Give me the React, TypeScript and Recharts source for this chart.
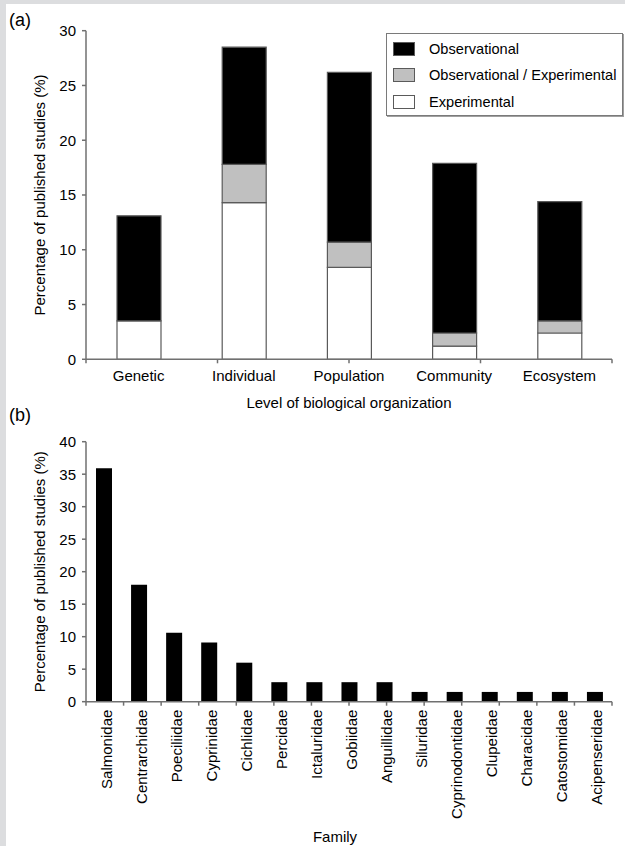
import React from 'react';
import { BarChart, Bar, XAxis, YAxis, Legend, Label } from 'recharts';

const levels = ['Genetic', 'Individual', 'Population', 'Community', 'Ecosystem'];
const experimental = [3.5, 14.3, 8.4, 1.2, 2.4];
const obsExp = [0, 3.5, 2.3, 1.2, 1.1];
const observational = [9.6, 10.7, 15.5, 15.5, 10.9];
const levelTicks = [0, 5, 10, 15, 20, 25, 30];

const families = [
  'Salmonidae', 'Centrarchidae', 'Poeciliidae', 'Cyprinidae', 'Cichlidae',
  'Percidae', 'Ictaluridae', 'Gobiidae', 'Anguillidae', 'Siluridae',
  'Cyprinodontidae', 'Clupeidae', 'Characidae', 'Catostomidae', 'Acipenseridae',
];
const familyPct = [35.9, 18, 10.6, 9.1, 6, 3, 3, 3, 3, 1.5, 1.5, 1.5, 1.5, 1.5, 1.5];
const familyTicks = [0, 5, 10, 15, 20, 25, 30, 35, 40];

const legendOrder = ['Observational', 'Observational / Experimental', 'Experimental'];

const FONT = '"Liberation Sans", Arial, sans-serif';
const AXIS = '#707070';
const STROKE = '#5a5a5a';
const H = 0.01;

const dataA = levels.map((l, i) => ({
  level: l,
  exp: experimental[i],
  mix: obsExp[i],
  obs: observational[i],
}));
const dataB = families.map((f, i) => ({ family: f, pct: familyPct[i] }));

const tickStyle = { fontSize: 15, fill: '#000', fontFamily: FONT };

const LegendBox = (props: any) => {
  const payload = [...(props.payload || [])].sort(
    (a: any, b: any) => legendOrder.indexOf(a.value) - legendOrder.indexOf(b.value)
  );
  return (
    <div
      style={{
        width: 237,
        height: 83,
        border: '1px solid #7a7a7a',
        boxShadow: '1px 1px 0 #a0a0a0',
        background: '#fff',
        boxSizing: 'border-box',
        paddingTop: 2,
        fontFamily: FONT,
        fontSize: 14.6,
        color: '#000',
        whiteSpace: 'nowrap',
      }}
    >
      {payload.map((p: any) => (
        <div key={p.value} style={{ height: 26.3, display: 'flex', alignItems: 'center' }}>
          <span
            style={{
              display: 'inline-block',
              flex: 'none',
              width: 22,
              height: 14,
              marginLeft: 6,
              marginRight: 14,
              background: p.color,
              border: '1px solid ' + STROKE,
              boxSizing: 'border-box',
            }}
          />
          <span>{p.value}</span>
        </div>
      ))}
    </div>
  );
};

const RotTick = (props: any) => {
  const { x, y, payload } = props;
  return (
    <text
      x={x}
      y={y}
      dy={8}
      transform={`rotate(-90, ${x}, ${y})`}
      textAnchor="end"
      fontSize={15}
      fontFamily={FONT}
      fill="#000"
    >
      {payload.value}
    </text>
  );
};

export default function App() {
  return (
    <div style={{ position: 'relative', width: 625, height: 846, background: '#fff', overflow: 'hidden', fontFamily: FONT }}>
      <style>{'body{margin:0} svg text{font-family:"Liberation Sans", Arial, sans-serif !important;}'}</style>
      <div style={{ position: 'absolute', left: 0, top: 0, width: 6, height: 846, background: '#dcdddf' }} />
      <div style={{ position: 'absolute', left: 0, top: 0, width: 625, height: 4, background: '#dcdddf' }} />
      <svg style={{ position: 'absolute', left: 0, top: 0 }} width={625} height={846}>
        <text x={9} y={26} fontSize={18} fontFamily={FONT} fill="#000">(a)</text>
        <text x={9} y={421} fontSize={18} fontFamily={FONT} fill="#000">(b)</text>
      </svg>

      <div style={{ position: 'absolute', left: 0, top: 400 }}>
        <BarChart
          width={625}
          height={446}
          data={dataB}
          margin={{ top: 41.7, right: 13, left: 0, bottom: 144.3 }}
          barSize={16}
        >
          <XAxis
            xAxisId="cat"
            dataKey="family"
            type="category"
            height={H}
            interval={0}
            tick={<RotTick />}
            tickLine={false}
            tickSize={4}
            tickMargin={4}
            axisLine={{ stroke: AXIS, strokeWidth: 1.5 }}
          >
            <Label value="Family" position="bottom" offset={129.6} dx={-14} style={{ fontSize: 15, fill: '#000', fontFamily: FONT }} />
          </XAxis>
          <XAxis
            xAxisId="num"
            type="number"
            domain={[0, 15]}
            ticks={[0, 1, 2, 3, 4, 5, 6, 7, 8, 9, 10, 11, 12, 13, 14, 15]}
            interval={0}
            height={H}
            axisLine={false}
            tickLine={{ stroke: AXIS, strokeWidth: 1.5 }}
            tickSize={4}
            tickFormatter={() => ''}
          />
          <YAxis
            width={86}
            domain={[0, 40]}
            ticks={familyTicks}
            interval={0}
            tick={tickStyle}
            tickSize={4}
            tickMargin={6}
            axisLine={{ stroke: AXIS, strokeWidth: 1.5 }}
            tickLine={{ stroke: AXIS, strokeWidth: 1.5 }}
          >
            <Label value="Percentage of published studies (%)" angle={-90} position="insideLeft" offset={40} style={{ textAnchor: 'middle', fontSize: 15, fill: '#000', fontFamily: FONT }} />
          </YAxis>
          <Bar xAxisId="cat" dataKey="pct" name="Family" fill="#000000" isAnimationActive={false} />
        </BarChart>
      </div>

      <div style={{ position: 'absolute', left: 0, top: 0 }}>
        <BarChart
          width={625}
          height={420}
          data={dataA}
          margin={{ top: 30.7, right: 13, left: 0, bottom: 60.7 }}
          barSize={44}
        >
          <XAxis
            xAxisId="cat"
            dataKey="level"
            type="category"
            height={H}
            tick={tickStyle}
            tickLine={false}
            tickSize={4}
            tickMargin={7}
            axisLine={{ stroke: AXIS, strokeWidth: 1.5 }}
          >
            <Label value="Level of biological organization" position="bottom" offset={38} style={{ fontSize: 15, fill: '#000', fontFamily: FONT }} />
          </XAxis>
          <XAxis
            xAxisId="num"
            type="number"
            domain={[0, 5]}
            ticks={[0, 1, 2, 3, 4, 5]}
            interval={0}
            height={H}
            axisLine={false}
            tickLine={{ stroke: AXIS, strokeWidth: 1.5 }}
            tickSize={4}
            tickFormatter={() => ''}
          />
          <YAxis
            width={86}
            domain={[0, 30]}
            ticks={levelTicks}
            interval={0}
            tick={tickStyle}
            tickSize={4}
            tickMargin={6}
            axisLine={{ stroke: AXIS, strokeWidth: 1.5 }}
            tickLine={{ stroke: AXIS, strokeWidth: 1.5 }}
          >
            <Label value="Percentage of published studies (%)" angle={-90} position="insideLeft" offset={40} style={{ textAnchor: 'middle', fontSize: 15, fill: '#000', fontFamily: FONT }} />
          </YAxis>
          <Legend
            layout="vertical"
            align="center"
            verticalAlign="middle"
            content={LegendBox}
            wrapperStyle={{ position: 'absolute', left: 386, top: 33, width: 237, height: 83 }}
          />
          <Bar xAxisId="cat" dataKey="exp" name="Experimental" stackId="s" fill="#ffffff" stroke={STROKE} strokeWidth={1.2} isAnimationActive={false} />
          <Bar xAxisId="cat" dataKey="mix" name="Observational / Experimental" stackId="s" fill="#c0c0c0" stroke={STROKE} strokeWidth={1.2} isAnimationActive={false} />
          <Bar xAxisId="cat" dataKey="obs" name="Observational" stackId="s" fill="#000000" stroke={STROKE} strokeWidth={1.2} isAnimationActive={false} />
        </BarChart>
      </div>
    </div>
  );
}
